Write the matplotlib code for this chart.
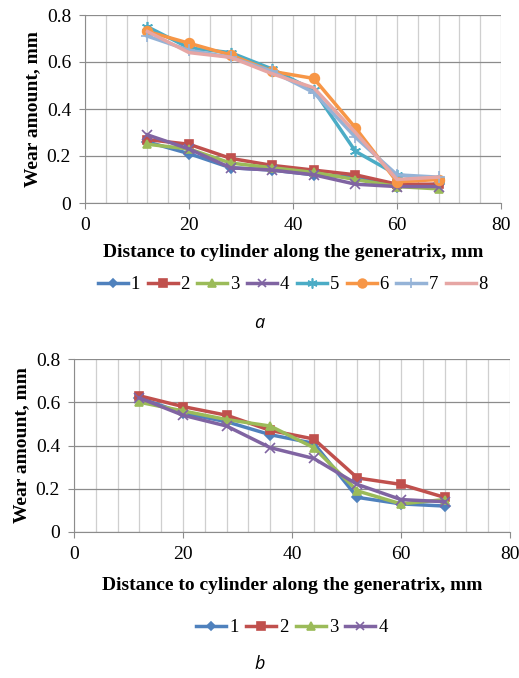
import matplotlib
matplotlib.use("Agg")
import matplotlib.pyplot as plt
from matplotlib.ticker import MultipleLocator

# distances along the generatrix, mm
x = [12, 20, 28, 36, 44, 52, 60, 68]

# chart a: wear amount, mm
a1 = [0.26, 0.21, 0.15, 0.14, 0.12, 0.11, 0.07, 0.08]
a2 = [0.27, 0.25, 0.19, 0.16, 0.14, 0.12, 0.08, 0.08]
a3 = [0.25, 0.23, 0.17, 0.15, 0.13, 0.10, 0.07, 0.06]
a4 = [0.29, 0.23, 0.15, 0.14, 0.12, 0.08, 0.07, 0.07]
a5 = [0.75, 0.66, 0.64, 0.57, 0.48, 0.22, 0.12, 0.10]
a6 = [0.73, 0.68, 0.63, 0.56, 0.53, 0.32, 0.09, 0.10]
a7 = [0.71, 0.65, 0.62, 0.56, 0.47, 0.28, 0.12, 0.11]
a8 = [0.73, 0.64, 0.62, 0.55, 0.49, 0.30, 0.10, 0.11]

# chart b
b1 = [0.62, 0.55, 0.51, 0.45, 0.41, 0.16, 0.13, 0.12]
b2 = [0.63, 0.58, 0.54, 0.47, 0.43, 0.25, 0.22, 0.16]
b3 = [0.60, 0.56, 0.52, 0.49, 0.39, 0.19, 0.13, 0.15]
b4 = [0.62, 0.54, 0.49, 0.39, 0.34, 0.22, 0.15, 0.14]

labels_a = ["1", "2", "3", "4", "5", "6", "7", "8"]
labels_b = ["1", "2", "3", "4"]

colors = ["#4F81BD", "#C0504D", "#9BBB59", "#8064A2",
          "#4BACC6", "#F79646", "#95B3D7", "#E6A6A4"]
markers = ["D", "s", "^", "x", (6, 2, 0), "o", "+", None]
msizes = [5, 6, 6, 7, 8, 7, 8, 0]

serif = ["Liberation Serif", "DejaVu Serif"]
plt.rcParams["font.family"] = serif

fig = plt.figure(figsize=(5.19, 6.78), dpi=100)


def style_axes(ax, xpad):
    ax.set_xlim(0, 80)
    ax.set_ylim(0, 0.8)
    ax.xaxis.set_major_locator(MultipleLocator(20))
    ax.xaxis.set_minor_locator(MultipleLocator(4))
    ax.yaxis.set_major_locator(MultipleLocator(0.2))
    ax.grid(which="major", axis="y", color="#8c8c8c", lw=0.9)
    ax.grid(which="both", axis="x", color="#cfcfcf", lw=0.9)
    ax.set_axisbelow(True)
    for s in ["top", "right"]:
        ax.spines[s].set_visible(False)
    for s in ["left", "bottom"]:
        ax.spines[s].set_color("#8c8c8c")
    ax.tick_params(which="major", length=4, color="#8c8c8c", labelsize=14, pad=6)
    ax.tick_params(which="minor", length=0)
    ax.yaxis.set_major_formatter(matplotlib.ticker.FuncFormatter(
        lambda v, p: "0" if v == 0 else f"{v:.1f}"))
    ax.set_xlabel("Distance to cylinder along the generatrix, mm",
                  fontsize=14, fontweight="bold", labelpad=xpad)
    ax.set_ylabel("Wear amount, mm", fontsize=14, fontweight="bold", labelpad=4)


leg_kw = dict(loc="upper center", ncol=8, frameon=False, fontsize=13.5,
              handlelength=1.6, handletextpad=0.15, columnspacing=0.4,
              borderaxespad=0, markerscale=0.9)

# --- chart a ---
ax1 = fig.add_axes([85 / 519, 1 - 203 / 678, 416 / 519, 188 / 678])
for ys, lab, c, m, ms in zip([a1, a2, a3, a4, a5, a6, a7, a8],
                             labels_a, colors, markers, msizes):
    ax1.plot(x, ys, color=c, lw=2.5, marker=m, ms=ms, mew=1.2, label=lab)
style_axes(ax1, 7)
ax1.legend(bbox_to_anchor=(0.5, -0.35), **leg_kw)
fig.text(0.5, 1 - 323 / 678, "a", ha="center", va="center", fontsize=13,
         style="italic", family="Open Sans")

# --- chart b ---
ax2 = fig.add_axes([74 / 519, 1 - 532 / 678, 436 / 519, 173 / 678])
for ys, lab, c, m, ms in zip([b1, b2, b3, b4], labels_b, colors, markers, msizes):
    ax2.plot(x, ys, color=c, lw=2.5, marker=m, ms=ms, mew=1.2, label=lab)
style_axes(ax2, 10)
leg_kw["ncol"] = 4
ax2.legend(bbox_to_anchor=(0.5, -0.46), **leg_kw)
fig.text(0.5, 1 - 664 / 678, "b", ha="center", va="center", fontsize=13,
         style="italic", family="Open Sans")

fig.savefig("out.png", dpi=100)
